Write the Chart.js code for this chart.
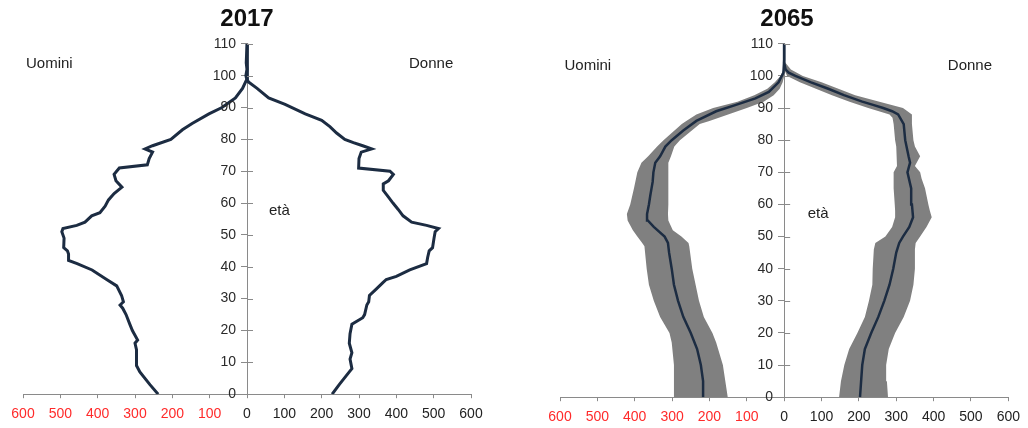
<!DOCTYPE html>
<html>
<head>
<meta charset="utf-8">
<script src="https://cdn.jsdelivr.net/npm/chart.js@4.4.1/dist/chart.umd.min.js"></script>
<style>
html, body { margin: 0; padding: 0; background: #fff; }
#wrap { position: relative; width: 1028px; height: 428px; }
canvas { position: absolute; top: 0; }
#c2017 { left: 0; }
#c2065 { left: 514px; }
</style>
</head>
<body>
<div id="wrap">
	<canvas id="c2017" width="514" height="428"></canvas>
	<canvas id="c2065" width="514" height="428"></canvas>
</div>
<script>
// 2017 - uomini / donne (migliaia)
const agesM17 = [0, 3, 7, 9, 14, 16, 17, 20, 22, 25, 27, 28, 29, 31, 34, 36, 39, 41, 42, 44, 45, 46, 49, 51, 52, 53, 54, 56, 57, 59, 61, 63, 65, 67, 69, 71, 72, 74, 76, 77, 78, 80, 83, 85, 88, 90, 93, 96, 99, 100, 102, 104, 110];
const men2017 = [238, 260, 287, 296, 296, 300, 293, 307, 314, 324, 333, 340, 331, 336, 349, 376, 415, 455, 478, 478, 481, 491, 490, 496, 493, 456, 434, 416, 394, 380, 371, 356, 335, 351, 356, 342, 267, 262, 253, 273, 253, 204, 173, 147, 102, 67, 31, 12, 0, 3, 0, 2, 0];
const agesF17 = [0, 3, 7, 8, 11, 13, 16, 19, 22, 24, 25, 28, 29, 31, 33, 35, 36, 37, 39, 41, 43, 45, 46, 49, 51, 52, 53, 54, 56, 58, 60, 62, 64, 66, 67, 69, 70, 71, 74, 76, 77, 78, 79, 80, 82, 84, 86, 88, 91, 93, 96, 98, 99, 101, 104, 110];
const women2017 = [228, 247, 274, 281, 276, 281, 274, 276, 281, 310, 315, 321, 326, 328, 346, 364, 373, 400, 436, 481, 484, 488, 497, 501, 504, 513, 481, 441, 418, 405, 391, 378, 365, 365, 379, 392, 383, 299, 300, 306, 334, 310, 285, 262, 240, 222, 200, 156, 102, 58, 27, 4, 0, 2, 1, 0];

// 2065 - mediana
const agesM65 = [0, 5, 10, 15, 20, 25, 30, 35, 40, 45, 48, 50, 53, 55, 57, 60, 63, 65, 67, 70, 73, 75, 78, 80, 83, 86, 89, 91, 93, 95, 98, 101, 105, 110];
const men2065 = [217, 217, 223, 233, 250, 270, 284, 295, 301, 308, 311, 320, 349, 365, 367, 362, 358, 355, 352, 350, 345, 332, 318, 301, 270, 235, 182, 129, 77, 41, 15, 2, 0, 0];
const agesF65 = [0, 5, 10, 15, 20, 25, 30, 35, 40, 45, 48, 50, 53, 56, 60, 65, 70, 73, 75, 80, 85, 88, 89, 90, 91, 92, 94, 96, 98, 100, 101, 102, 104, 110];
const women2065 = [203, 206, 209, 216, 233, 252, 268, 282, 292, 300, 308, 318, 335, 345, 342, 340, 330, 337, 333, 324, 320, 305, 289, 265, 238, 209, 160, 118, 72, 30, 12, 4, 0, 0];

// 2065 - intervallo di confidenza
const bandAgesM = [0, 10, 17, 20, 25, 30, 35, 40, 47, 48, 50, 52, 55, 57, 60, 65, 70, 73, 75, 78, 80, 85, 86, 88, 90, 92, 94, 96, 98, 100, 102, 105];
const menLow = [151, 164, 182, 192, 215, 228, 237, 246, 254, 256, 275, 298, 310, 311, 310, 310, 310, 310, 303, 294, 279, 226, 200, 150, 100, 55, 28, 12, 4, 0, 0, 0];
const menHigh = [295, 295, 301, 307, 332, 349, 362, 368, 374, 380, 393, 405, 419, 421, 412, 402, 393, 382, 364, 340, 323, 274, 262, 235, 190, 125, 80, 45, 25, 10, 2, 0];
const bandAgesF = [0, 5, 10, 15, 20, 25, 30, 35, 40, 46, 48, 50, 53, 56, 58, 60, 65, 68, 70, 72, 75, 78, 80, 85, 87, 88, 90, 92, 94, 96, 98, 100, 102, 104, 105];
const womenLow = [147, 152, 161, 174, 196, 216, 227, 236, 237, 240, 244, 271, 289, 297, 297, 296, 293, 293, 293, 302, 302, 300, 297, 293, 290, 282, 225, 175, 128, 85, 42, 8, 0, 0, 0];
const womenHigh = [278, 275, 273, 280, 297, 320, 337, 346, 350, 350, 352, 364, 381, 395, 390, 386, 377, 368, 364, 350, 364, 350, 346, 342, 342, 342, 318, 255, 190, 145, 100, 50, 18, 4, 0];

const xTicks = [-600, -500, -400, -300, -200, -100, 0, 100, 200, 300, 400, 500, 600];
const yTicks = [0, 10, 20, 30, 40, 50, 60, 70, 80, 90, 100, 110];

const FONT = "'Liberation Sans', Arial, sans-serif";
const NAVY = '#1c2c42';
const RED = '#ff2a2a';
const AXIS = '#8a8a8a';

function toPoints(ages, vals, sign) {
	return ages.map((a, i) => ({ x: sign * vals[i], y: a }));
}

function toBand(ages, low, high, sign) {
	const outer = ages.map((a, i) => ({ x: sign * high[i], y: a }));
	const inner = ages.map((a, i) => ({ x: sign * low[i], y: a })).reverse();
	return outer.concat(inner);
}

// etichette dell'asse y, tacche a destra e testi
const extrasPlugin = {
	id: 'extras',
	afterDraw(chart, args, opts) {
		const { ctx, scales: { x, y } } = chart;
		const x0 = x.getPixelForValue(0);
		ctx.save();
		ctx.strokeStyle = AXIS;
		ctx.lineWidth = 1;
		ctx.beginPath();
		y.ticks.forEach(t => {
			const py = Math.round(y.getPixelForValue(t.value)) + 0.5;
			ctx.moveTo(x0, py);
			ctx.lineTo(x0 + 6, py);
		});
		ctx.stroke();

		ctx.font = '14px ' + FONT;
		ctx.fillStyle = '#2a2a2a';
		ctx.textAlign = 'right';
		ctx.textBaseline = 'middle';
		y.ticks.forEach(t => {
			ctx.fillText(String(t.value), x0 - 11, y.getPixelForValue(t.value));
		});

		ctx.font = '15px ' + FONT;
		ctx.fillStyle = '#222';
		ctx.textAlign = 'left';
		opts.labels.forEach(l => {
			ctx.fillText(l.text, x.getPixelForValue(l.x), y.getPixelForValue(l.y));
		});
		ctx.restore();
	},
};

function makeOptions(title, padding, labels) {
	return {
		responsive: false,
		animation: false,
		events: [],
		layout: { padding: padding },
		plugins: {
			legend: { display: false },
			tooltip: { enabled: false },
			title: {
				display: true,
				text: title,
				color: '#111',
				font: { family: FONT, size: 24, weight: 'bold' },
				padding: { top: 5, bottom: 10 },
			},
			extras: { labels: labels },
		},
		scales: {
			x: {
				type: 'linear',
				min: xTicks[0],
				max: xTicks[xTicks.length - 1],
				afterBuildTicks: scale => {
					scale.ticks = xTicks.map(v => ({ value: v }));
				},
				ticks: {
					autoSkip: false,
					maxRotation: 0,
					padding: 8,
					callback: v => Math.abs(v),
					color: ctx => (ctx.tick && ctx.tick.value < 0 ? RED : '#222'),
					font: { family: FONT, size: 14 },
				},
				grid: { drawOnChartArea: false, tickLength: 4, color: AXIS },
				border: { color: AXIS },
			},
			y: {
				type: 'linear',
				position: { x: 0 },
				min: yTicks[0],
				max: yTicks[yTicks.length - 1],
				afterBuildTicks: scale => {
					scale.ticks = yTicks.map(v => ({ value: v }));
				},
				ticks: { display: false },
				grid: { drawOnChartArea: false, tickLength: 6, color: AXIS },
				border: { color: AXIS },
			},
		},
	};
}

function lineSet(data, width) {
	return {
		data: data,
		borderColor: NAVY,
		borderWidth: width,
		pointRadius: 0,
		fill: false,
		tension: 0,
	};
}

function bandSet(data) {
	return {
		data: data,
		borderWidth: 0,
		borderColor: 'rgba(0,0,0,0)',
		backgroundColor: '#808080',
		pointRadius: 0,
		fill: 'shape',
		tension: 0,
	};
}

const chart2017 = new Chart(document.querySelector('#c2017'), {
	type: 'line',
	data: {
		datasets: [
			lineSet(toPoints(agesM17, men2017, -1), 3),
			lineSet(toPoints(agesF17, women2017, 1), 3),
		],
	},
	options: makeOptions('2017', { left: 23, right: 43, top: 0, bottom: -3 }, [
		{ text: 'Uomini', x: -592, y: 103.7 },
		{ text: 'Donne', x: 434, y: 103.7 },
		{ text: 'età', x: 59, y: 57.5 },
	]),
	plugins: [extrasPlugin],
});

const chart2065 = new Chart(document.querySelector('#c2065'), {
	type: 'line',
	data: {
		datasets: [
			lineSet(toPoints(agesM65, men2065, -1), 2.5),
			lineSet(toPoints(agesF65, women2065, 1), 2.5),
			bandSet(toBand(bandAgesM, menLow, menHigh, -1)),
			bandSet(toBand(bandAgesF, womenLow, womenHigh, 1)),
		],
	},
	options: makeOptions('2065', { left: 46, right: 14, top: 0, bottom: -6 }, [
		{ text: 'Uomini', x: -588, y: 103 },
		{ text: 'Donne', x: 438, y: 103 },
		{ text: 'età', x: 63, y: 57 },
	]),
	plugins: [extrasPlugin],
});
</script>
</body>
</html>
